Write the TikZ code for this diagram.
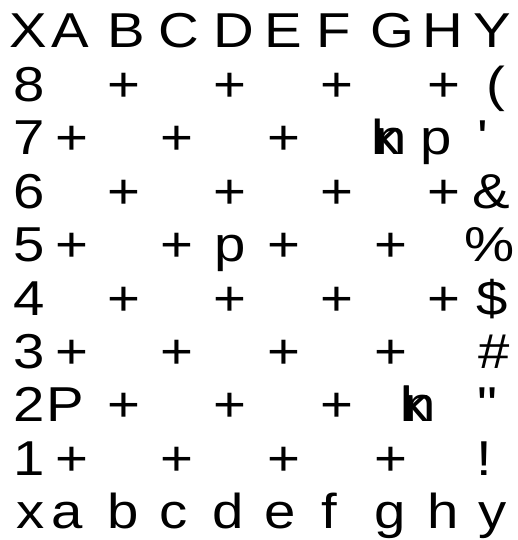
\documentclass[tikz,border=0pt]{standalone}
\usepackage{fontspec}
\newfontfamily\dgfont{Liberation Sans}
\usetikzlibrary{positioning}
\tikzset{
 dg glyph/.style={font=\dgfont\fontsize{49}{49}\selectfont,inner sep=0pt,
                  outer sep=0pt,anchor=base,xscale=1.15},
 dg square/.style={dg glyph},
 dg piece/.style={dg glyph}
}
\begin{document}
\begin{tikzpicture}[x=1pt,y=-1pt]
 \useasboundingbox (0,0) rectangle (517,540);
 % file letters, top and bottom
 \foreach \c/\x [count=\i] in {X/28,A/70,B/126,C/179,D/234,E/283,F/334,G/392,H/443,Y/492}{
   \node[dg glyph] (top\i) at (\x,48) {\c};
 }
 \foreach \c/\x [count=\i] in {x/31,a/67,b/123,c/174,d/228,e/280,f/329,g/390,h/443,y/493}{
   \node[dg glyph] (bot\i) at (\x,528.6) {\c};
 }
 % rank numbers
 \foreach \n/\y in {8/101.4,7/154.8,6/208.2,5/261.6,4/315,3/368.4,2/421.8,1/475.2}{
   \node[dg glyph] (rank\n) at (29,\y) {\n};
 }
 % dark squares
 \foreach \y/\r in {101.4/8,208.2/6,315/4}{
   \foreach \x [count=\i] in {124,230,337,444}{
     \node[dg square] (sq\r\i) at (\x,\y) {+};
   }
 }
 \foreach \y/\r in {261.6/5,368.4/3,475.2/1}{
   \foreach \x [count=\i] in {72,177,284,391}{
     \node[dg square] (sq\r\i) at (\x,\y) {+};
   }
 }
 \foreach \x [count=\i] in {72,177,284}{
   \node[dg square] (sq7\i) at (\x,154.8) {+};
 }
 \foreach \x [count=\i] in {124,230,337}{
   \node[dg square] (sq2\i) at (\x,421.8) {+};
 }
 % right border
 \foreach \c/\x/\y [count=\i] in {{(}/496/101.4,{\symbol{39}}/483/154.8,{\&}/491/208.2,
     {\%}/490/261.6,{\$}/492/315,{\#}/494/368.4,{\symbol{34}}/487/421.8,{!}/484/475.2}{
   \node[dg glyph] (edge\i) at (\x,\y) {\c};
 }
 % pieces
 \node[dg piece] (pa2) at (65,421.8) {P};
 \node[dg piece] (pd5) at (230,261.6) {p};
 \node[dg piece] (ph7) at (436,154.8) {p};
 \node[dg piece] (kg7) at (386,154.8) {k};
 \node[dg piece] (ng7) at (391,154.8) {n};
 \node[dg piece] (lg2) at (407,421.8) {l};
 \node[dg piece] (kg2) at (415,421.8) {k};
 \node[dg piece] (ng2) at (420,421.8) {n};
\end{tikzpicture}
\end{document}
